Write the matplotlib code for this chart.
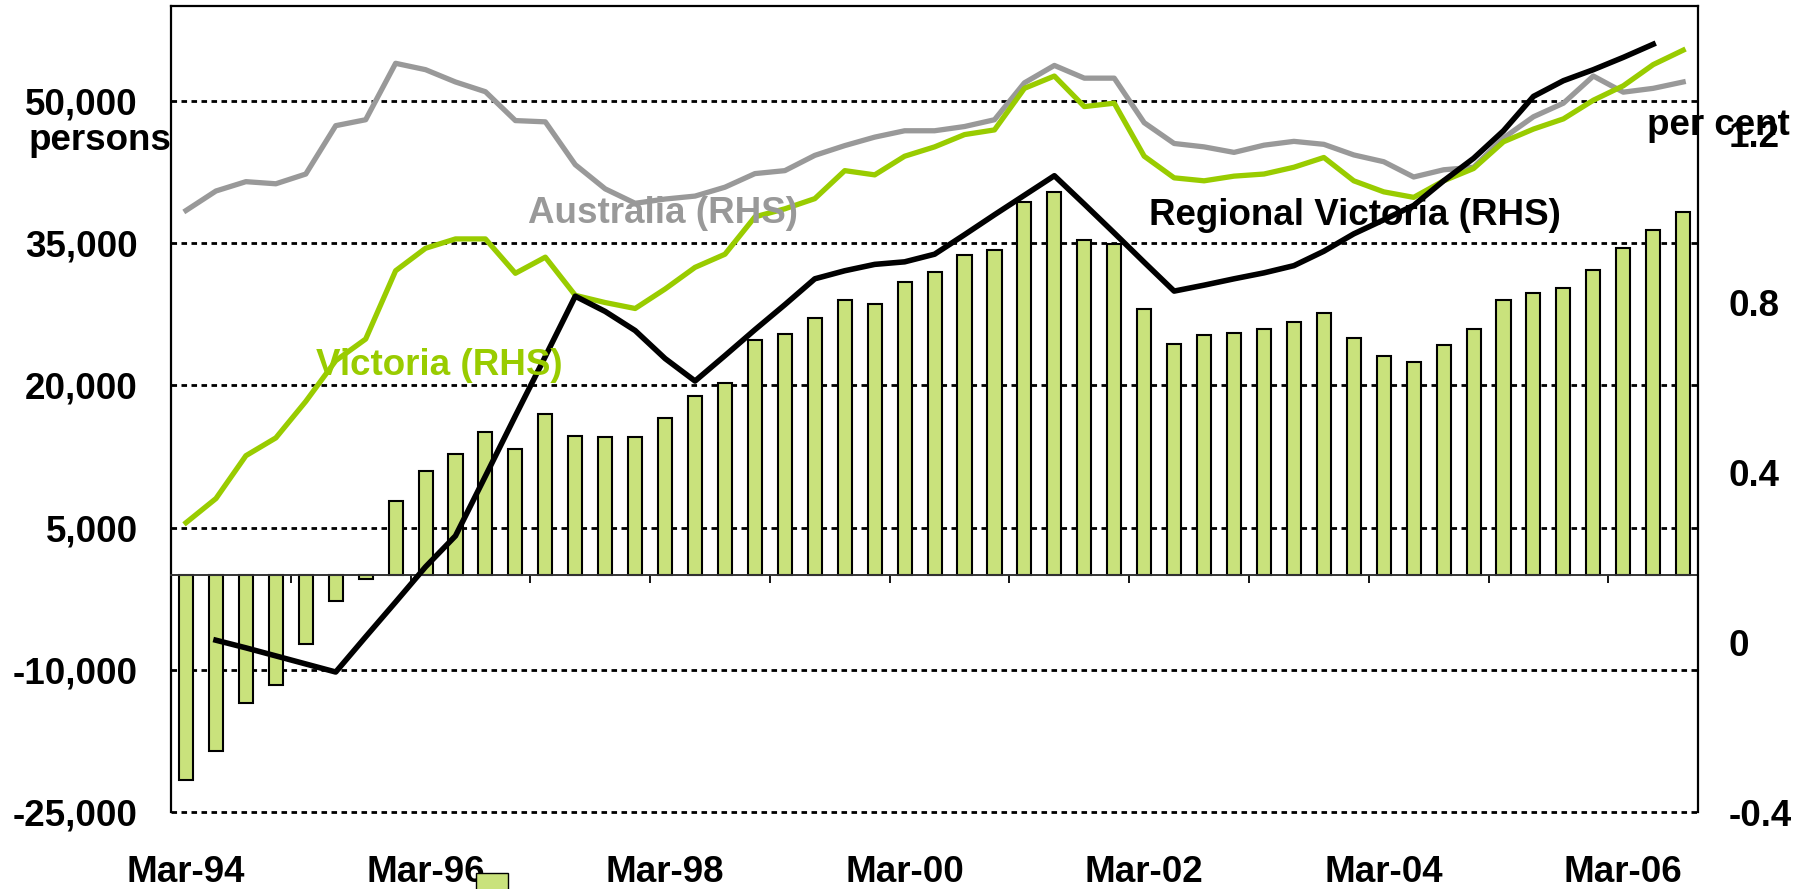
import numpy as np
import matplotlib.pyplot as plt
from matplotlib.patches import Rectangle

plt.rcParams['font.family'] = ['Liberation Sans', 'DejaVu Sans']
plt.rcParams['font.weight'] = 'bold'

# net interstate/overseas migration, persons (LHS bars), quarterly Mar-94 .. Sep-06
bars = [-21600, -18600, -13500, -11600, -7300, -2700, -400, 7800, 11000, 12800,
        15100, 13300, 17000, 14700, 14500, 14500, 16600, 18900, 20200, 24800,
        25400, 27100, 29000, 28600, 30900, 31900, 33700, 34300, 39300, 40400,
        35300, 34900, 28000, 24400, 25300, 25500, 25900, 26700, 27600, 25000,
        23100, 22500, 24300, 25900, 29000, 29700, 30300, 32200, 34500, 36400,
        38300]

# growth rates, per cent (RHS)
australia = [1.018, 1.064, 1.086, 1.081, 1.104, 1.218, 1.232, 1.365, 1.350, 1.321,
             1.298, 1.230, 1.227, 1.126, 1.069, 1.035, 1.045, 1.052, 1.073, 1.105,
             1.112, 1.148, 1.171, 1.191, 1.206, 1.206, 1.216, 1.232, 1.319, 1.360,
             1.330, 1.330, 1.225, 1.176, 1.168, 1.155, 1.172, 1.181, 1.174, 1.149,
             1.133, 1.097, 1.114, 1.120, 1.189, 1.239, 1.271, 1.335, 1.297, 1.306,
             1.321]
victoria = [0.282, 0.339, 0.440, 0.482, 0.568, 0.664, 0.715, 0.876, 0.929, 0.951,
            0.951, 0.870, 0.908, 0.818, 0.801, 0.787, 0.833, 0.884, 0.915, 1.003,
            1.022, 1.046, 1.112, 1.102, 1.146, 1.168, 1.197, 1.208, 1.306, 1.335,
            1.263, 1.271, 1.146, 1.095, 1.088, 1.099, 1.104, 1.120, 1.143, 1.088,
            1.062, 1.049, 1.088, 1.117, 1.180, 1.210, 1.234, 1.278, 1.312, 1.362,
            1.396]
regional = [np.nan, 0.005, -0.013, -0.032, -0.051, -0.070, 0.013, 0.095, 0.178, 0.251,
            0.392, 0.534, 0.674, 0.816, 0.780, 0.735, 0.669, 0.616, 0.676, 0.737,
            0.796, 0.857, 0.876, 0.891, 0.897, 0.915, 0.961, 1.008, 1.054, 1.100,
            1.033, 0.965, 0.896, 0.828, 0.842, 0.857, 0.871, 0.888, 0.922, 0.963,
            0.996, 1.030, 1.088, 1.141, 1.206, 1.287, 1.324, 1.350, 1.379, 1.410,
            np.nan]

tick_labels = ['Mar-94', 'Mar-96', 'Mar-98', 'Mar-00', 'Mar-02', 'Mar-04', 'Mar-06']
left_ticks = [-25000, -10000, 5000, 20000, 35000, 50000]
right_ticks = [-0.4, 0, 0.4, 0.8, 1.2]
right_labels = ['-0.4', '0', '0.4', '0.8', '1.2']

bar_col = '#c9e27c'
fs = 26.5

fig = plt.figure(figsize=(18.1, 8.89), dpi=100)
ax = fig.add_axes([0.0945, 0.0866, 0.8437, 0.9066])

x = np.arange(len(bars))
ax.bar(x, bars, width=0.47, color=bar_col, edgecolor='black', linewidth=1.5, zorder=2)
ax.set_xlim(-0.5, len(bars) - 0.5)
ax.set_ylim(-25000, 60000)
ax.set_yticks(left_ticks, labels=[f'{v:,}' for v in left_ticks])
ax.set_axisbelow(True)
ax.yaxis.grid(True, color='black', linestyle=(0, (2.0, 1.6)), linewidth=2.0)
for gl in ax.yaxis.get_gridlines():
    gl.set_clip_on(False)

# category axis crosses at zero, tick marks every 4 quarters
ax.spines['bottom'].set_position(('data', 0))
ax.spines['bottom'].set_color('#333333')
ax.spines['bottom'].set_linewidth(1.4)
ax.set_xticks(np.arange(3.5, len(bars) - 1, 4))
ax.tick_params(axis='x', length=6, width=1.3, direction='out', labelbottom=False)
ax.tick_params(axis='y', length=0, pad=24, labelsize=fs)
for s in ['top', 'left']:
    ax.spines[s].set_linewidth(1.6)
ax.spines['right'].set_visible(False)

# date labels sit below the plot area
secx = ax.secondary_xaxis('bottom')
secx.set_xticks(x[::8], labels=tick_labels)
secx.tick_params(length=0, pad=31, labelsize=fs)
secx.spines['bottom'].set_visible(False)

ax2 = ax.twinx()
ax2.plot(x, australia, color='#999999', lw=3.8)
ax2.plot(x, victoria, color='#99cc00', lw=3.8)
ax2.plot(x, regional, color='black', lw=4.0)
ax2.set_ylim(-0.4, 1.5)
ax2.set_yticks(right_ticks, labels=right_labels)
ax2.tick_params(axis='y', length=0, pad=21.6, labelsize=fs)
for s in ['top', 'bottom', 'left']:
    ax2.spines[s].set_visible(False)
ax2.spines['right'].set_linewidth(1.6)

ax2.text(0.2338, 0.742, 'Australia (RHS)', color='#999999', fontsize=fs,
         va='center', ha='left', transform=ax2.transAxes)
ax2.text(0.095, 0.5546, 'Victoria (RHS)', color='#99cc00', fontsize=fs,
         va='center', ha='left', transform=ax2.transAxes)
ax2.text(0.6405, 0.7407, 'Regional Victoria (RHS)', color='black', fontsize=fs,
         va='center', ha='left', transform=ax2.transAxes)
ax2.text(0.9666, 0.852, 'per cent', color='black', fontsize=fs,
         va='center', ha='left', transform=ax2.transAxes, zorder=5)
fig.text(29 / 1810, 1 - 140 / 889, 'persons', fontsize=fs, va='center', ha='left')

# leftover legend key at the bottom edge
fig.add_artist(Rectangle((476 / 1810, -0.005), 32 / 1810, 0.023, transform=fig.transFigure,
                         facecolor=bar_col, edgecolor='black', lw=1))

fig.savefig('out.png', dpi=100)
